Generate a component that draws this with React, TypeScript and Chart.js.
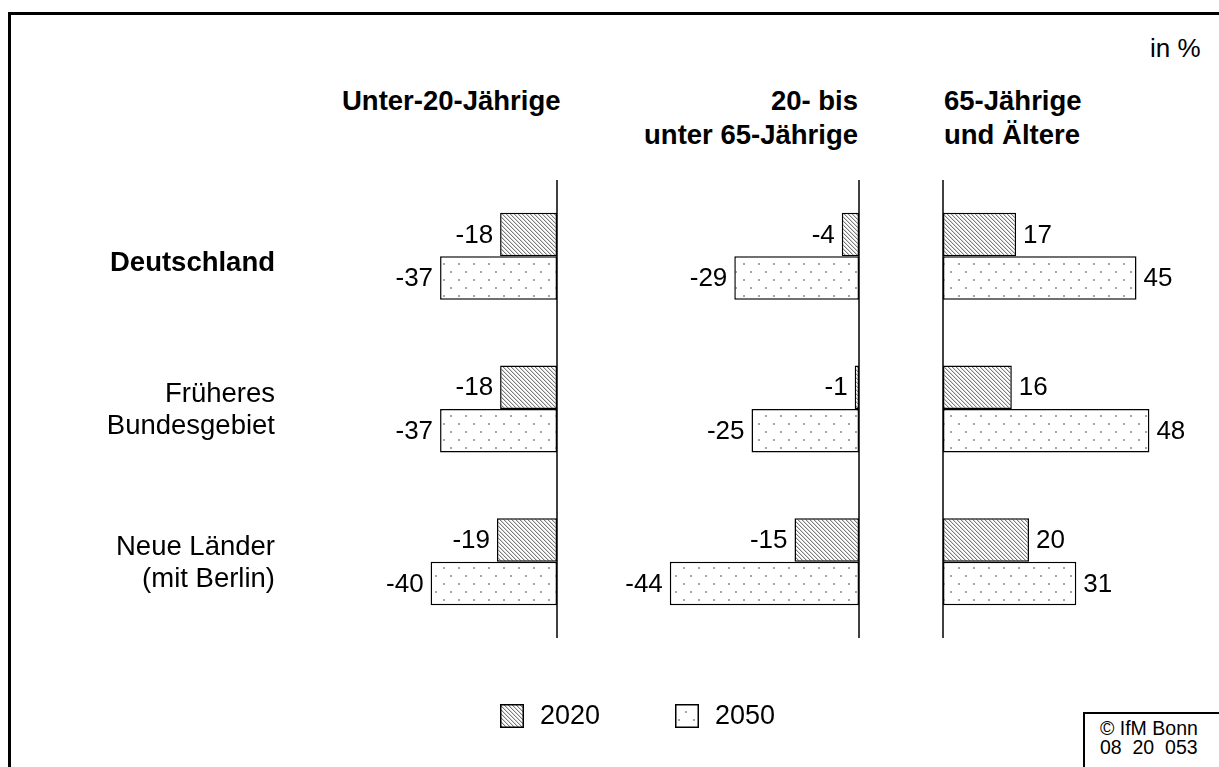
import React, { useEffect, useRef } from "react";
import { Chart, registerables } from "chart.js";

Chart.register(...registerables);

// ---------- data ----------
const categories: string[][] = [["Deutschland"], ["Früheres", "Bundesgebiet"], ["Neue Länder", "(mit Berlin)"]];
const seriesNames = ["2020", "2050"];
const panelTitles: string[][] = [["Unter-20-Jährige"], ["20- bis", "unter 65-Jährige"], ["65-Jährige", "und Ältere"]];
const under20_2020 = [-18, -18, -19];
const under20_2050 = [-37, -37, -40];
const age20to65_2020 = [-4, -1, -15];
const age20to65_2050 = [-29, -25, -44];
const over65_2020 = [17, 16, 20];
const over65_2050 = [45, 48, 31];
const unitLabel = "in %";
const sourceLines = ["© IfM Bonn", "08  20  053"];

const FONT = "'Liberation Sans', Arial, Helvetica, sans-serif";

function hatchPattern(ctx: CanvasRenderingContext2D) {
  const c = document.createElement("canvas");
  c.width = 4;
  c.height = 4;
  const g = c.getContext("2d")!;
  g.fillStyle = "#ffffff";
  g.fillRect(0, 0, 4, 4);
  g.fillStyle = "#d6d6d6";
  for (let i = 0; i < 4; i++) g.fillRect((i + 1) % 4, i, 1, 1);
  g.fillStyle = "#7c7c7c";
  for (let i = 0; i < 4; i++) g.fillRect(i, i, 1, 1);
  return ctx.createPattern(c, "repeat")!;
}

function dotPattern(ctx: CanvasRenderingContext2D) {
  const c = document.createElement("canvas");
  c.width = 15;
  c.height = 16;
  const g = c.getContext("2d")!;
  g.fillStyle = "#ffffff";
  g.fillRect(0, 0, 15, 16);
  g.fillStyle = "#a6a6a6";
  g.fillRect(3, 3, 2, 2);
  g.fillRect(10, 11, 2, 2);
  return ctx.createPattern(c, "repeat")!;
}

const valueLabels = {
  id: "valueLabels",
  afterDatasetsDraw(chart: any) {
    const ctx = chart.ctx;
    ctx.save();
    ctx.font = `26px ${FONT}`;
    ctx.fillStyle = "#000";
    ctx.textBaseline = "middle";
    chart.data.datasets.forEach((ds: any, di: number) => {
      chart.getDatasetMeta(di).data.forEach((bar: any, i: number) => {
        const v = ds.data[i];
        const { x, y } = bar.getProps(["x", "y"], true);
        if (v < 0) {
          ctx.textAlign = "right";
          ctx.fillText(String(v), x - 7, y + 1);
        } else {
          ctx.textAlign = "left";
          ctx.fillText(String(v), x + 7, y + 1);
        }
      });
    });
    ctx.restore();
  },
};

const zeroAxis = {
  id: "zeroAxis",
  afterDatasetsDraw(chart: any) {
    const ctx = chart.ctx;
    const x0 = chart.scales.x.getPixelForValue(0);
    ctx.save();
    ctx.strokeStyle = "#000";
    ctx.lineWidth = 1.5;
    ctx.beginPath();
    ctx.moveTo(x0, chart.chartArea.top);
    ctx.lineTo(x0, chart.chartArea.bottom);
    ctx.stroke();
    ctx.restore();
  },
};

function categoryLabels(rightX: number) {
  return {
    id: "categoryLabels",
    afterDraw(chart: any) {
      const ctx = chart.ctx;
      ctx.save();
      ctx.fillStyle = "#000";
      ctx.textAlign = "right";
      ctx.textBaseline = "alphabetic";
      categories.forEach((lines, i) => {
        const yc = chart.scales.y.getPixelForValue(i);
        ctx.font = i === 0 ? `bold 27.5px ${FONT}` : `27.5px ${FONT}`;
        const n = lines.length;
        lines.forEach((line, li) => {
          const base = n === 1 ? yc + 15 : yc + 9 + (li - (n - 1) / 2) * 32;
          ctx.fillText(line, rightX, base);
        });
      });
      ctx.restore();
    },
  };
}

type PanelCfg = {
  d2020: number[];
  d2050: number[];
  left: number;
  right: number;
  axisX: number;
  ppu: number;
  withCategories?: boolean;
};

const TOP = 180;
const HEIGHT = 458;

const panels: PanelCfg[] = [
  { d2020: under20_2020, d2050: under20_2050, left: 20, right: 580, axisX: 557, ppu: 3.16, withCategories: true },
  { d2020: age20to65_2020, d2050: age20to65_2050, left: 590, right: 880, axisX: 859, ppu: 4.3 },
  { d2020: over65_2020, d2050: over65_2050, left: 925, right: 1210, axisX: 943, ppu: 4.3 },
];

function Panel({ cfg }: { cfg: PanelCfg }) {
  const ref = useRef<HTMLCanvasElement>(null);
  useEffect(() => {
    const canvas = ref.current!;
    const ctx = canvas.getContext("2d")!;
    const hatch = hatchPattern(ctx);
    const dots = dotPattern(ctx);
    const plugins: any[] = [valueLabels, zeroAxis];
    if (cfg.withCategories) plugins.push(categoryLabels(275 - cfg.left));
    const chart = new Chart(ctx, {
      type: "bar",
      data: {
        labels: categories.map((c) => c.join(" ")),
        datasets: [
          {
            label: seriesNames[0],
            data: cfg.d2020,
            backgroundColor: hatch as any,
            borderColor: "#000",
            borderWidth: 1.5,
            borderSkipped: false,
            categoryPercentage: 0.57,
            barPercentage: 1,
          },
          {
            label: seriesNames[1],
            data: cfg.d2050,
            backgroundColor: dots as any,
            borderColor: "#000",
            borderWidth: 1.5,
            borderSkipped: false,
            categoryPercentage: 0.57,
            barPercentage: 1,
          },
        ],
      },
      options: {
        indexAxis: "y",
        responsive: false,
        maintainAspectRatio: false,
        animation: false,
        layout: { padding: 0 },
        plugins: { legend: { display: false }, tooltip: { enabled: false } },
        scales: {
          x: {
            display: false,
            min: -(cfg.axisX - cfg.left) / cfg.ppu,
            max: (cfg.right - cfg.axisX) / cfg.ppu,
          },
          y: { display: false, offset: true },
        },
      } as any,
      plugins,
    });
    return () => chart.destroy();
  }, [cfg]);
  const w = cfg.right - cfg.left;
  return (
    <canvas
      ref={ref}
      width={w}
      height={HEIGHT}
      style={{ position: "absolute", left: cfg.left, top: TOP, width: w, height: HEIGHT }}
    />
  );
}

function Legend() {
  const ref = useRef<HTMLCanvasElement>(null);
  useEffect(() => {
    const canvas = ref.current!;
    const ctx = canvas.getContext("2d")!;
    ctx.clearRect(0, 0, canvas.width, canvas.height);
    const fills = [hatchPattern(ctx), dotPattern(ctx)];
    const boxX = [5, 180];
    ctx.font = `27px ${FONT}`;
    ctx.textBaseline = "middle";
    ctx.fillStyle = "#000";
    seriesNames.forEach((name, i) => {
      ctx.fillStyle = fills[i] as any;
      ctx.fillRect(boxX[i], 4, 24, 24);
      ctx.strokeStyle = "#000";
      ctx.lineWidth = 1.5;
      ctx.strokeRect(boxX[i] + 0.75, 4.75, 22.5, 22.5);
      ctx.fillStyle = "#000";
      ctx.textAlign = "left";
      ctx.fillText(name, boxX[i] + 40, 17);
    });
  }, []);
  return (
    <canvas
      ref={ref}
      width={320}
      height={34}
      style={{ position: "absolute", left: 495, top: 700, width: 320, height: 34 }}
    />
  );
}

export default function App() {
  const titleStyle: React.CSSProperties = {
    position: "absolute",
    top: 84,
    fontFamily: FONT,
    fontWeight: "bold",
    fontSize: 27.5,
    lineHeight: "34px",
    whiteSpace: "nowrap",
    color: "#000",
  };
  return (
    <div
      style={{
        position: "fixed",
        left: 0,
        top: 0,
        width: 1219,
        height: 767,
        overflow: "hidden",
        background: "#fff",
        fontFamily: FONT,
      }}
    >
      <div
        style={{
          position: "absolute",
          left: 8,
          top: 12,
          width: 1400,
          height: 1000,
          borderLeft: "3px solid #000",
          borderTop: "3px solid #000",
        }}
      />
      <div style={{ position: "absolute", left: 1150, top: 33, fontSize: 26, lineHeight: "30px", whiteSpace: "nowrap" }}>
        {unitLabel}
      </div>
      <div style={{ ...titleStyle, left: 342, textAlign: "left" }}>
        {panelTitles[0].map((l, i) => (
          <div key={i}>{l}</div>
        ))}
      </div>
      <div style={{ ...titleStyle, right: 1219 - 858, textAlign: "right" }}>
        {panelTitles[1].map((l, i) => (
          <div key={i}>{l}</div>
        ))}
      </div>
      <div style={{ ...titleStyle, left: 944, textAlign: "left" }}>
        {panelTitles[2].map((l, i) => (
          <div key={i}>{l}</div>
        ))}
      </div>
      {panels.map((p, i) => (
        <Panel key={i} cfg={p} />
      ))}
      <Legend />
      <div
        style={{
          position: "absolute",
          left: 1083,
          top: 712,
          width: 400,
          height: 200,
          borderLeft: "2px solid #000",
          borderTop: "2px solid #000",
        }}
      />
      <div
        style={{
          position: "absolute",
          left: 1100,
          top: 719,
          fontSize: 19.5,
          lineHeight: "19px",
          whiteSpace: "pre",
        }}
      >
        {sourceLines.map((l, i) => (
          <div key={i}>{l}</div>
        ))}
      </div>
    </div>
  );
}
